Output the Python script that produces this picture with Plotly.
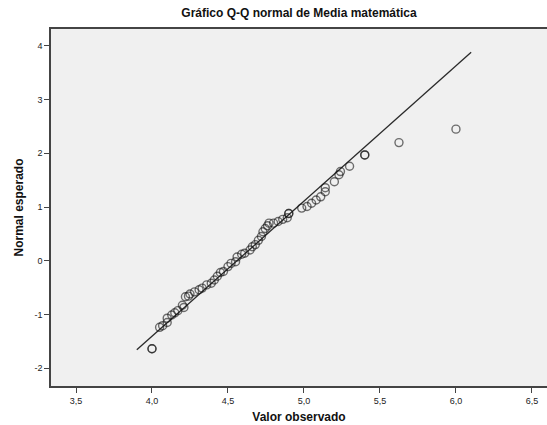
import plotly.graph_objects as go

# Observed values of "Media matemática" and their expected normal scores
observed = [
    4.00, 4.00, 4.05, 4.07, 4.10, 4.10, 4.13, 4.15, 4.17, 4.20, 4.21,
    4.22, 4.24, 4.25, 4.28, 4.31, 4.33, 4.36, 4.39, 4.41, 4.43, 4.45,
    4.47, 4.50, 4.52, 4.55, 4.56, 4.59, 4.61, 4.645, 4.66, 4.68, 4.70,
    4.72, 4.73, 4.745, 4.76, 4.77, 4.80, 4.83, 4.86, 4.89, 4.90, 4.90,
    4.985, 5.02, 5.05, 5.08, 5.11, 5.14, 5.14, 5.20, 5.23, 5.24, 5.30,
    5.40, 5.40, 5.625, 6.00,
]
expected = [
    -1.64, -1.64, -1.24, -1.21, -1.15, -1.07, -1.01, -0.97, -0.93, -0.83, -0.87,
    -0.67, -0.66, -0.62, -0.58, -0.54, -0.51, -0.45, -0.42, -0.36, -0.29, -0.22,
    -0.20, -0.11, -0.05, -0.02, 0.07, 0.12, 0.14, 0.20, 0.26, 0.30, 0.38,
    0.45, 0.54, 0.60, 0.65, 0.70, 0.70, 0.73, 0.77, 0.80, 0.88, 0.88,
    0.98, 1.01, 1.07, 1.13, 1.19, 1.285, 1.36, 1.47, 1.60, 1.66, 1.76,
    1.97, 1.97, 2.20, 2.45,
]

# Normal reference line end points
line_x = [3.90, 6.10]
line_y = [-1.66, 3.88]

x_ticks = [3.5, 4.0, 4.5, 5.0, 5.5, 6.0, 6.5]
y_ticks = [-2, -1, 0, 1, 2, 3, 4]
y_tick_labels = ["-2", "-1", "0", "1", "2", "3", "4"]

font_family = "Liberation Sans, Arial, sans-serif"
axis_color = "#444444"

fig = go.Figure()
fig.add_trace(go.Scatter(
    x=line_x, y=line_y, mode="lines",
    line=dict(color="#2a2a2a", width=1.3),
    hoverinfo="skip", showlegend=False,
))
fig.add_trace(go.Scatter(
    x=observed, y=expected, mode="markers",
    marker=dict(symbol="circle-open", size=8,
                color="rgba(20,20,20,0.6)",
                line=dict(width=1.4, color="rgba(20,20,20,0.6)")),
    showlegend=False,
))

fig.update_layout(
    width=547, height=425,
    margin=dict(l=51, r=0, t=29, b=39),
    paper_bgcolor="white",
    plot_bgcolor="#f0f0f0",
    separators=",.",
    font=dict(family=font_family, size=9, color="#222222"),
    title=dict(
        text="<b>Gráfico Q-Q normal de Media matemática</b>",
        font=dict(family=font_family, size=12, color="#111111"),
        x=0.5, xref="paper", xanchor="center",
        y=1 - 13 / 425, yref="container", yanchor="middle",
    ),
    xaxis=dict(
        range=[3.3355, 6.599],
        tickvals=x_ticks, tickformat=".1f",
        ticks="outside", ticklen=5, tickwidth=1, tickcolor=axis_color,
        showgrid=False, zeroline=False,
        showline=True, linecolor=axis_color, linewidth=1.5, mirror=True,
        title=dict(text="<b>Valor observado</b>",
                   font=dict(family=font_family, size=12, color="#111111"),
                   standoff=8),
    ),
    yaxis=dict(
        range=[-2.333, 4.315],
        tickvals=y_ticks, ticktext=y_tick_labels,
        ticks="outside", ticklen=5, tickwidth=1, tickcolor=axis_color,
        showgrid=False, zeroline=False,
        showline=True, linecolor=axis_color, linewidth=1.5,
        title=dict(text="<b>Normal esperado</b>",
                   font=dict(family=font_family, size=12, color="#111111"),
                   standoff=8),
    ),
)

fig.write_html("out.html")
